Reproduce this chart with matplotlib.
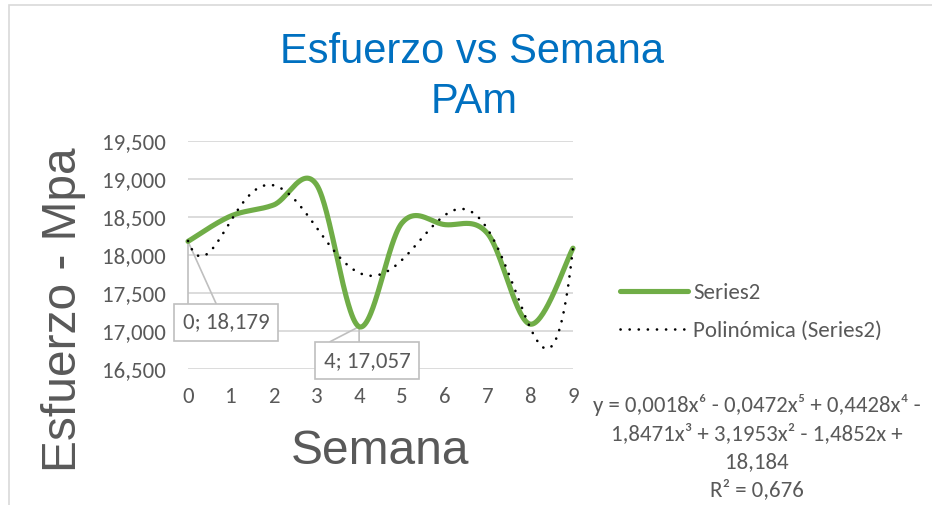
import numpy as np
import matplotlib
matplotlib.use("Agg")
import matplotlib.pyplot as plt
from matplotlib import font_manager as fm
from matplotlib.patches import Rectangle

# ---- data ----
semana = [0, 1, 2, 3, 4, 5, 6, 7, 8, 9]
esfuerzo = [18.179, 18.513, 18.658, 18.93, 17.057, 18.42, 18.40, 18.285, 17.09, 18.09]
trend_degree = 6
y_ticks = [16.5, 17.0, 17.5, 18.0, 18.5, 19.0, 19.5]
x_ticks = [0, 1, 2, 3, 4, 5, 6, 7, 8, 9]
labeled_points = [0, 4]
title_lines = ["Esfuerzo vs Semana", "PAm"]
x_label = "Semana"
y_label = "Esfuerzo - Mpa"
series_name = "Series2"
trend_name = "Polinómica (Series2)"
equation_lines = ["y = 0,0018x⁶ - 0,0472x⁵ + 0,4428x⁴ -",
                  "1,8471x³ + 3,1953x² - 1,4852x +",
                  "18,184",
                  "R² = 0,676"]

avail = {f.name for f in fm.fontManager.ttflist}
def pick(*names):
    for n in names:
        if n in avail:
            return n
    return "DejaVu Sans"

f_axis = pick("Liberation Sans", "Arial")
f_small = pick("Carlito", "Lato", "Open Sans")
small_fam = [f_small, "DejaVu Sans"]
SMALL = 16.5
GREY = "#595959"

def fmt(v):
    return f"{v:.3f}".replace(".", ",")

W, H = 932, 505
fig = plt.figure(figsize=(W / 100, H / 100), dpi=100)
fig.patch.set_facecolor("white")

# outer chart border
fig.add_artist(Rectangle((8.5 / W, -0.1), 1.2, 1 - 4.5 / H + 0.1, transform=fig.transFigure,
                         fill=False, edgecolor="#D9D9D9", linewidth=1.2))

x0, x1 = 188, 573
yt, yb = 141, 369
ax = fig.add_axes([x0 / W, 1 - yb / H, (x1 - x0) / W, (yb - yt) / H])
ax.set_xlim(0, 9)
ax.set_ylim(16.5, 19.5)
for s in ax.spines.values():
    s.set_visible(False)
ax.set_yticks(y_ticks)
ax.set_yticklabels([fmt(v) for v in y_ticks])
ax.set_xticks(x_ticks)
ax.set_xticklabels([str(v) for v in x_ticks])
ax.tick_params(length=0, labelsize=SMALL, labelcolor=GREY)
ax.tick_params(axis="y", pad=16)
ax.tick_params(axis="x", pad=13)
for lab in ax.get_xticklabels() + ax.get_yticklabels():
    lab.set_fontfamily(small_fam)
ax.grid(axis="y", color="#D9D9D9", linewidth=1.3)
ax.set_axisbelow(True)

# smoothed series (Excel-style Bezier smoothing)
xs = np.array(semana, dtype=float)
ys = np.array(esfuerzo, dtype=float)
px = np.concatenate([[xs[0]], xs, [xs[-1]]])
py = np.concatenate([[ys[0]], ys, [ys[-1]]])
t = np.linspace(0, 1, 60)[:, None]
sx, sy = [], []
for i in range(len(xs) - 1):
    P0 = np.array([px[i + 1], py[i + 1]])
    P3 = np.array([px[i + 2], py[i + 2]])
    P1 = P0 + (np.array([px[i + 2], py[i + 2]]) - np.array([px[i], py[i]])) / 6
    P2 = P3 - (np.array([px[i + 3], py[i + 3]]) - np.array([px[i + 1], py[i + 1]])) / 6
    B = (1 - t) ** 3 * P0 + 3 * (1 - t) ** 2 * t * P1 + 3 * (1 - t) * t ** 2 * P2 + t ** 3 * P3
    sx.extend(B[:, 0]); sy.extend(B[:, 1])
line_s, = ax.plot(sx, sy, color="#70AD47", linewidth=3.7, solid_capstyle="round",
                  solid_joinstyle="round", clip_on=False, zorder=3, label=series_name)

# polynomial trendline (least-squares fit of the series)
coefs = np.polyfit(xs, ys, trend_degree)
tx = np.linspace(0, 9, 400)
ty = np.polyval(coefs, tx)
line_t, = ax.plot(tx, ty, color="black", linewidth=1.9, linestyle=(0, (0.05, 3.4)),
                  dash_capstyle="round", clip_on=False, zorder=4, label=trend_name)

# data labels with leader lines
offsets = {0: (38, -81, [(0, -62), (28, -62)]), 4: (8, -34, [(0, -15), (-29, -15)])}
for idx in labeled_points:
    dx, dy, leaders = offsets[idx]
    xv, yv = semana[idx], esfuerzo[idx]
    for (lx, ly) in leaders:
        ax.annotate("", xy=(xv, yv), xytext=(lx, ly), textcoords="offset pixels",
                    arrowprops=dict(arrowstyle="-", color="#BFBFBF", lw=1.2,
                                    shrinkA=0, shrinkB=0), zorder=2, annotation_clip=False)
    ax.annotate(f"{semana[idx]}; {fmt(yv)}", xy=(xv, yv), xytext=(dx, dy),
                textcoords="offset pixels", ha="center", va="center",
                fontsize=SMALL, color=GREY, family=small_fam, zorder=5,
                annotation_clip=False,
                bbox=dict(boxstyle="square,pad=0.38", facecolor="white",
                          edgecolor="#BFBFBF", linewidth=1.2))

# titles / labels
for txt, (cx, base) in zip(title_lines, [(472.5, 63), (474.5, 113)]):
    fig.text(cx / W, 1 - base / H, txt, ha="center", va="baseline", fontsize=30,
             color="#0070C0", family=f_axis)
fig.text(380 / W, 1 - 452 / H, x_label, ha="center", va="center", fontsize=34.5,
         color=GREY, family=f_axis)
fig.text(63 / W, 1 - 310 / H, y_label, ha="center", va="center", fontsize=34.5,
         color=GREY, family=f_axis, rotation=90)

# legend
leg = fig.legend(handles=[line_s, line_t], loc="center left",
                 bbox_to_anchor=(599 / W, 1 - 312 / H), frameon=False,
                 prop={"family": small_fam, "size": SMALL}, labelcolor=GREY,
                 handlelength=3.0, handletextpad=0.2, labelspacing=0.8)

# trendline equation
for txt, base in zip(equation_lines, [412, 440, 468, 496]):
    fig.text(757 / W, 1 - base / H, txt, ha="center", va="baseline", fontsize=SMALL,
             color=GREY, family=small_fam)

fig.savefig("out.png", dpi=100, facecolor="white")
